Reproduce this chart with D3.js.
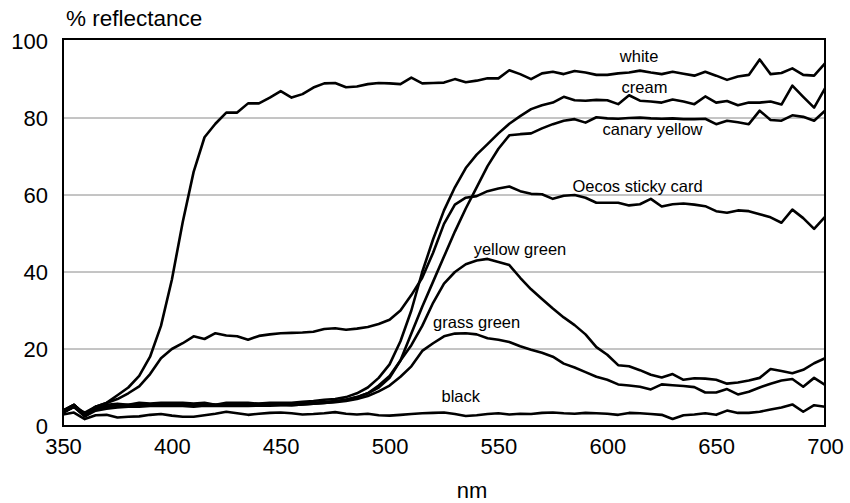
<!DOCTYPE html>
<html>
<head>
<meta charset="utf-8">
<script src="https://cdn.jsdelivr.net/npm/d3@7"></script>
<style>
  html, body { margin: 0; padding: 0; background: #fff; }
  svg { display: block; }
  text { font-family: "Liberation Sans", Arial, sans-serif; fill: #000; }
</style>
</head>
<body>
<svg id="chart" width="850" height="503"></svg>
<script>
// ---- data ----
const wavelengths = [350,355,360,365,370,375,380,385,390,395,400,405,410,415,420,425,430,435,440,445,450,455,460,465,470,475,480,485,490,495,500,505,510,515,520,525,530,535,540,545,550,555,560,565,570,575,580,585,590,595,600,605,610,615,620,625,630,635,640,645,650,655,660,665,670,675,680,685,690,695,700];

const white = [3.5,5,3.5,5,6,8,10,13,18,26,38,53,66,75,78.5,81.4,81.4,83.8,83.8,85.3,87,85.3,86.2,87.9,89,89.1,88,88.2,88.8,89.1,89,88.8,90.5,89,89.1,89.2,90.1,89.3,89.7,90.3,90.3,92.4,91.4,90.1,91.6,92,91.4,92.2,91.8,91.2,91.2,91.6,91.8,92.3,91.8,91.4,92,91.5,91,92,91,89.9,90.8,91.2,95.2,91.4,91.7,92.9,91.2,91,94.2];

const cream = [4,5.5,3,5,5.5,5.8,5.5,6,5.8,6,6,6,5.8,6,5.5,6,6,6,5.8,6,6,6,6.3,6.5,6.8,7,7.5,8.5,10,12.5,16,22,30,40,48.5,56,62,67,70.5,73.2,76,78.5,80.5,82.3,83.3,84,85.5,84.6,84.5,84.7,84.6,83.6,85.9,84.5,84.3,84,84.8,84.3,83.6,85.6,84,84.4,83.3,84,84,84.3,83.5,88.4,85.5,82.7,87.7];

const canaryYellow = [4,5.5,3,4.5,5,5.3,5.5,5.5,5.3,5.5,5.6,5.5,5.5,5.8,5.5,5.6,5.8,5.6,5.7,5.8,5.8,5.7,6,6,6.2,6.5,6.8,7.5,8.5,10,12.5,17,24,31,37.5,44,50.5,56.5,62,67.5,72,75.5,75.8,76,77.3,78.4,79.3,79.7,78.8,80.2,79.9,79.8,80,80.1,79.9,79.8,79.9,79.7,79.7,79.8,78.4,79.3,78.9,78.4,81.9,79.5,79.3,80.7,80.3,79.3,81.9];

const oecosStickyCard = [4,5.5,3,5,6,7,8.5,10.3,13.5,17.6,20,21.5,23.3,22.6,24.1,23.5,23.3,22.4,23.4,23.8,24.1,24.2,24.3,24.5,25.2,25.4,25,25.3,25.7,26.5,27.6,30,34,38.5,45,52.5,57.5,59.3,59.7,61,61.7,62.2,61,60.3,60.2,59,59.8,60,59.3,58,58,58,57.3,57.6,59,57,57.6,57.8,57.5,57.1,55.8,55.4,56,55.8,55,54.2,52.8,56.2,54,51.2,54.3];

const yellowGreen = [3.5,5,2.5,4.5,5,5.2,5.3,5.5,5.5,5.5,5.5,5.5,5.3,5.5,5.5,5.3,5.5,5.5,5.4,5.5,5.5,5.4,5.6,5.8,6,6.3,6.8,7.5,8.5,10.5,13,17,21,26,32,37,40,42,43,43.4,42.6,41.8,38.5,35.5,33,30.5,28.2,26.2,23.8,20.5,18.5,15.8,15.5,14.5,13.3,12.6,13.5,12,12.4,12.3,12,11,11.3,11.8,12.5,14.8,14.3,13.7,14.6,16.3,17.6];

const grassGreen = [3.5,5,2.5,4,4.5,4.8,5,5,5.2,5.2,5.3,5.2,5,5.3,5.2,5.2,5.3,5.2,5.3,5.3,5.4,5.4,5.6,5.8,6,6.2,6.5,7,7.8,9,10.5,12.8,15.5,19.5,21.5,23.3,24,24.1,23.8,22.8,22.4,21.8,20.7,19.8,19,18,16.2,15.2,14,12.8,12,10.8,10.5,10.2,9.5,10.8,10.6,10.4,10.1,8.7,8.7,9.6,8.2,8.9,10,11,11.8,12.2,10.2,12.5,10.7];

const black = [3,3.5,1.8,2.8,2.9,2.2,2.4,2.5,2.9,3.1,2.7,2.4,2.4,2.8,3.2,3.7,3.3,2.9,3.2,3.4,3.5,3.3,3,3.1,3.3,3.6,3.2,3,3.2,2.8,2.7,2.9,3.1,3.3,3.4,3.5,3.1,2.6,2.8,3.1,3.3,3,3.2,3.1,3.4,3.5,3.3,3.2,3.4,3.3,3.2,2.9,3.4,3.3,3.1,2.9,1.8,2.8,3,3.3,2.9,4,3.4,3.4,3.7,4.3,4.8,5.6,3.7,5.4,5];

const seriesNames = ["white","cream","canary yellow","Oecos sticky card","yellow green","grass green","black"];
const seriesValues = [white, cream, canaryYellow, oecosStickyCard, yellowGreen, grassGreen, black];

const xTicks = [350,400,450,500,550,600,650,700];
const yTicks = [0,20,40,60,80,100];
const xTitle = "nm";
const yTitle = "% reflectance";

// label anchors in data units (nm, %)
const labelNm  = [614.6, 617.1, 620.8, 613.9, 559.9, 540, 532.7];
const labelVal = [95.8, 87.5, 76.6, 62, 45.5, 26.6, 7.4];

// ---- layout ----
const svg = d3.select("#chart");
const x = d3.scaleLinear().domain([350, 700]).range([63, 825]);
const y = d3.scaleLinear().domain([0, 100]).range([426, 41]);

// grid lines
svg.append("g")
  .selectAll("line")
  .data(yTicks.filter(d => d > 0 && d < 100))
  .join("line")
  .attr("x1", x(350)).attr("x2", x(700))
  .attr("y1", d => y(d)).attr("y2", d => y(d))
  .attr("stroke", "#8a8a8a").attr("stroke-width", 1);

// axes (labels only)
const xAxis = d3.axisBottom(x).tickValues(xTicks).tickSize(0).tickPadding(12).tickFormat(d3.format("d"));
const gx = svg.append("g").attr("transform", `translate(0,${y(0)})`).call(xAxis);
gx.select(".domain").remove();
gx.selectAll("text").attr("font-size", 22).attr("font-family", "Liberation Sans, Arial, sans-serif");

const yAxis = d3.axisLeft(y).tickValues(yTicks).tickSize(0).tickPadding(15).tickFormat(d3.format("d"));
const gy = svg.append("g").attr("transform", `translate(${x(350)},0)`).call(yAxis);
gy.select(".domain").remove();
gy.selectAll("text").attr("font-size", 22).attr("font-family", "Liberation Sans, Arial, sans-serif");

// lines
const line = d3.line()
  .x((d, i) => x(wavelengths[i]))
  .y(d => y(d));

svg.append("g")
  .selectAll("path")
  .data(seriesValues)
  .join("path")
  .attr("d", d => line(d))
  .attr("fill", "none")
  .attr("stroke", "#000")
  .attr("stroke-width", 2.6)
  .attr("stroke-linejoin", "round");

// frame
svg.append("rect")
  .attr("x", x(350)).attr("y", y(100) - 2)
  .attr("width", x(700) - x(350)).attr("height", y(0) - y(100) + 2)
  .attr("fill", "none").attr("stroke", "#000").attr("stroke-width", 2);

// series labels
svg.append("g")
  .selectAll("text")
  .data(seriesNames)
  .join("text")
  .attr("x", (d, i) => x(labelNm[i]))
  .attr("y", (d, i) => y(labelVal[i]))
  .attr("text-anchor", "middle")
  .attr("dominant-baseline", "middle")
  .attr("font-size", 16.5)
  .text(d => d);

// titles
svg.append("text").attr("x", 66).attr("y", 26).attr("font-size", 22.5).text(yTitle);
svg.append("text").attr("x", 472).attr("y", 498).attr("text-anchor", "middle").attr("font-size", 22).text(xTitle);
</script>
</body>
</html>
